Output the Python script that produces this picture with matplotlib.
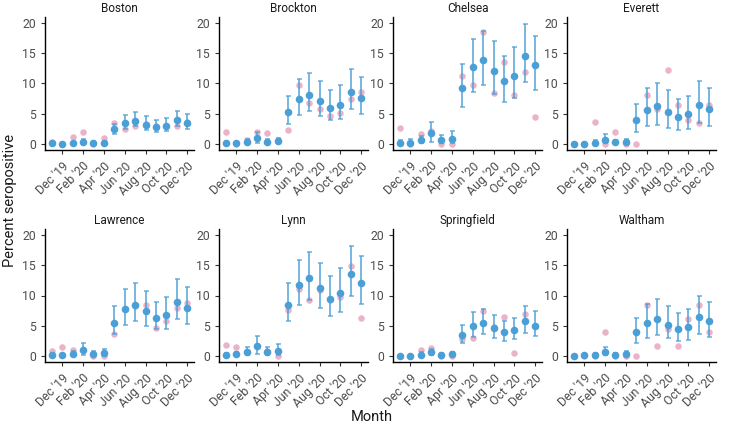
import numpy as np
import matplotlib.pyplot as plt

plt.rcParams['font.family'] = ['Roboto', 'DejaVu Sans']

# months Nov '19 .. Dec '20
months = ["Nov '19", "Dec '19", "Jan '20", "Feb '20", "Mar '20", "Apr '20", "May '20",
          "Jun '20", "Jul '20", "Aug '20", "Sep '20", "Oct '20", "Nov '20", "Dec '20"]
tick_labels = ["Dec '19", "Feb '20", "Apr '20", "Jun '20", "Aug '20", "Oct '20", "Dec '20"]

cities = ["Boston", "Brockton", "Chelsea", "Everett",
          "Lawrence", "Lynn", "Springfield", "Waltham"]

# model estimate, lower, upper, raw percent
boston_est = [0.1, 0.0, 0.1, 0.4, 0.1, 0.2, 2.4, 3.4, 3.8, 3.2, 2.8, 3.0, 4.0, 3.5]
boston_lo = [0.0, 0.0, 0.0, 0.1, 0.0, 0.0, 1.6, 2.5, 2.9, 2.3, 1.9, 2.1, 3.0, 2.5]
boston_hi = [0.3, 0.2, 0.4, 0.8, 0.3, 0.5, 3.3, 4.8, 5.3, 4.6, 3.9, 4.3, 5.5, 5.0]
boston_raw = [0.4, 0.0, 1.1, 1.9, 0.0, 1.0, 3.5, 2.5, 2.9, 3.3, 2.9, 3.0, 3.0, 3.6]

brockton_est = [0.1, 0.1, 0.3, 1.0, 0.3, 0.5, 5.3, 7.4, 8.1, 7.1, 6.0, 6.5, 8.6, 7.6]
brockton_lo = [0.0, 0.0, 0.0, 0.2, 0.0, 0.1, 3.3, 4.8, 5.4, 4.6, 3.9, 4.2, 5.7, 5.0]
brockton_hi = [0.3, 0.4, 0.8, 2.0, 0.9, 1.0, 8.0, 10.8, 11.8, 10.4, 8.9, 9.7, 12.4, 11.1]
brockton_raw = [1.9, 0.0, 0.7, 1.9, 1.8, 0.7, 2.3, 9.8, 6.8, 5.8, 4.7, 5.1, 7.4, 8.6]

chelsea_est = [0.2, 0.2, 0.6, 1.8, 0.7, 0.9, 9.2, 12.7, 13.9, 12.1, 10.4, 11.2, 14.5, 13.0]
chelsea_lo = [0.0, 0.0, 0.2, 0.4, 0.1, 0.2, 6.1, 8.6, 9.7, 8.2, 6.9, 7.6, 10.2, 9.0]
chelsea_hi = [0.7, 0.8, 1.3, 3.6, 1.5, 2.1, 13.3, 17.3, 18.7, 17.1, 14.6, 16.0, 19.9, 17.8]
chelsea_raw = [2.6, 0.0, 1.7, 2.2, 0.0, 0.0, 11.3, 9.8, 18.6, 8.5, 13.6, 8.1, 11.9, 4.4]

everett_est = [0.0, 0.0, 0.2, 0.7, 0.3, 0.3, 4.0, 5.6, 6.2, 5.3, 4.5, 4.9, 6.5, 5.8]
everett_lo = [0.0, 0.0, 0.0, 0.1, 0.0, 0.0, 2.0, 2.9, 3.2, 2.7, 2.3, 2.5, 3.5, 3.0]
everett_hi = [0.1, 0.1, 0.6, 1.6, 0.6, 0.9, 6.6, 9.2, 10.0, 8.9, 7.4, 8.0, 10.4, 9.3]
everett_raw = [0.0, 0.0, 3.7, 0.0, 1.9, 0.0, 0.0, 8.1, 5.8, 12.2, 6.4, 3.9, 3.4, 6.5]

lawrence_est = [0.1, 0.2, 0.3, 1.0, 0.3, 0.5, 5.5, 7.7, 8.5, 7.4, 6.2, 6.8, 8.9, 7.9]
lawrence_lo = [0.0, 0.0, 0.0, 0.2, 0.0, 0.0, 3.7, 5.1, 5.7, 4.9, 4.4, 4.5, 6.1, 5.3]
lawrence_hi = [0.3, 0.4, 0.8, 2.1, 0.8, 1.2, 8.2, 11.0, 12.1, 10.7, 9.0, 9.8, 12.7, 11.4]
lawrence_raw = [0.9, 1.5, 1.0, 1.0, 0.0, 0.0, 3.7, 7.7, 8.3, 8.4, 4.6, 5.7, 8.0, 8.8]

lynn_est = [0.2, 0.3, 0.6, 1.6, 0.6, 0.8, 8.5, 11.7, 12.9, 11.2, 9.5, 10.4, 13.5, 12.1]
lynn_lo = [0.0, 0.0, 0.1, 0.3, 0.1, 0.1, 5.7, 8.4, 9.3, 8.0, 6.6, 7.2, 9.9, 8.6]
lynn_hi = [0.5, 0.6, 1.5, 3.3, 1.5, 1.9, 12.1, 15.9, 17.2, 15.4, 13.3, 14.5, 18.2, 16.5]
lynn_raw = [1.8, 1.5, 0.7, 1.7, 0.8, 0.0, 7.6, 11.0, 9.3, 10.9, 9.3, 9.7, 14.9, 6.2]

springfield_est = [0.0, 0.0, 0.2, 0.6, 0.2, 0.3, 3.4, 4.9, 5.4, 4.6, 3.9, 4.3, 5.7, 5.0]
springfield_lo = [0.0, 0.0, 0.0, 0.2, 0.0, 0.0, 2.1, 3.2, 3.6, 3.0, 2.5, 2.8, 3.8, 3.3]
springfield_hi = [0.1, 0.1, 0.6, 1.2, 0.5, 0.7, 5.2, 7.2, 7.7, 6.8, 5.8, 6.3, 8.2, 7.4]
springfield_raw = [0.0, 0.0, 1.0, 1.3, 0.0, 0.0, 2.8, 3.0, 7.5, 4.8, 6.5, 0.5, 6.9, 5.0]

waltham_est = [0.0, 0.1, 0.2, 0.7, 0.2, 0.4, 3.9, 5.5, 6.1, 5.2, 4.4, 4.8, 6.4, 5.7]
waltham_lo = [0.0, 0.0, 0.0, 0.1, 0.0, 0.1, 2.1, 3.0, 3.4, 2.9, 2.5, 2.7, 3.6, 3.2]
waltham_hi = [0.1, 0.2, 0.5, 1.5, 0.5, 0.8, 6.2, 8.6, 9.5, 8.3, 7.1, 7.7, 10.0, 8.9]
waltham_raw = [0.0, 0.0, 0.0, 3.9, 0.0, 0.0, 0.0, 8.5, 1.7, 4.4, 1.7, 6.1, 8.5, 3.9]

est = [boston_est, brockton_est, chelsea_est, everett_est,
       lawrence_est, lynn_est, springfield_est, waltham_est]
lo = [boston_lo, brockton_lo, chelsea_lo, everett_lo,
      lawrence_lo, lynn_lo, springfield_lo, waltham_lo]
hi = [boston_hi, brockton_hi, chelsea_hi, everett_hi,
      lawrence_hi, lynn_hi, springfield_hi, waltham_hi]
raw = [boston_raw, brockton_raw, chelsea_raw, everett_raw,
       lawrence_raw, lynn_raw, springfield_raw, waltham_raw]

blue = "#4a9fd6"
pink = "#e59ab8"

W, H = 729, 425
fig = plt.figure(figsize=(W / 100, H / 100), dpi=100)

lefts = [45, 219, 393, 567]
tops = [17, 229]
aw, ah = 149, 133

x = np.arange(len(months))
tick_pos = [months.index(t) for t in tick_labels]

for k, city in enumerate(cities):
    r, c = divmod(k, 4)
    ax = fig.add_axes([lefts[c] / W, (H - tops[r] - ah) / H, aw / W, ah / H])
    e = np.array(est[k])
    yerr = [e - np.array(lo[k]), np.array(hi[k]) - e]
    ax.scatter(x, raw[k], s=22, color=pink, alpha=0.75, lw=0, zorder=2)
    ax.errorbar(x, e, yerr=yerr, fmt='none', ecolor=blue, alpha=0.75,
                elinewidth=1.4, capsize=1.8, capthick=1.2, zorder=3)
    ax.scatter(x, e, s=30, color=blue, lw=0, zorder=4)
    ax.set_xlim(-0.65, 13.65)
    ax.set_ylim(-1, 21)
    ax.set_yticks([0, 5, 10, 15, 20])
    ax.set_xticks(tick_pos)
    ax.set_xticklabels(tick_labels, rotation=45, ha='right', rotation_mode='anchor')
    ax.tick_params(labelsize=8.8, colors='#333333', labelcolor='#4d4d4d', length=3, width=0.8)
    ax.tick_params(axis='x', pad=4)
    for s in ['top', 'right']:
        ax.spines[s].set_visible(False)
    for s in ['left', 'bottom']:
        ax.spines[s].set_linewidth(1.0)
    ax.set_title(city, fontsize=8.5, color='#1a1a1a', pad=3.5)

fig.text(10 / W, 1 - 200 / H, "Percent seropositive", rotation=90, fontsize=10.5,
         va='center', ha='center', color='#1a1a1a')
fig.text(372 / W, 1 - 417 / H, "Month", fontsize=10.5, va='center', ha='center', color='#1a1a1a')

fig.savefig("out.png", dpi=100)
